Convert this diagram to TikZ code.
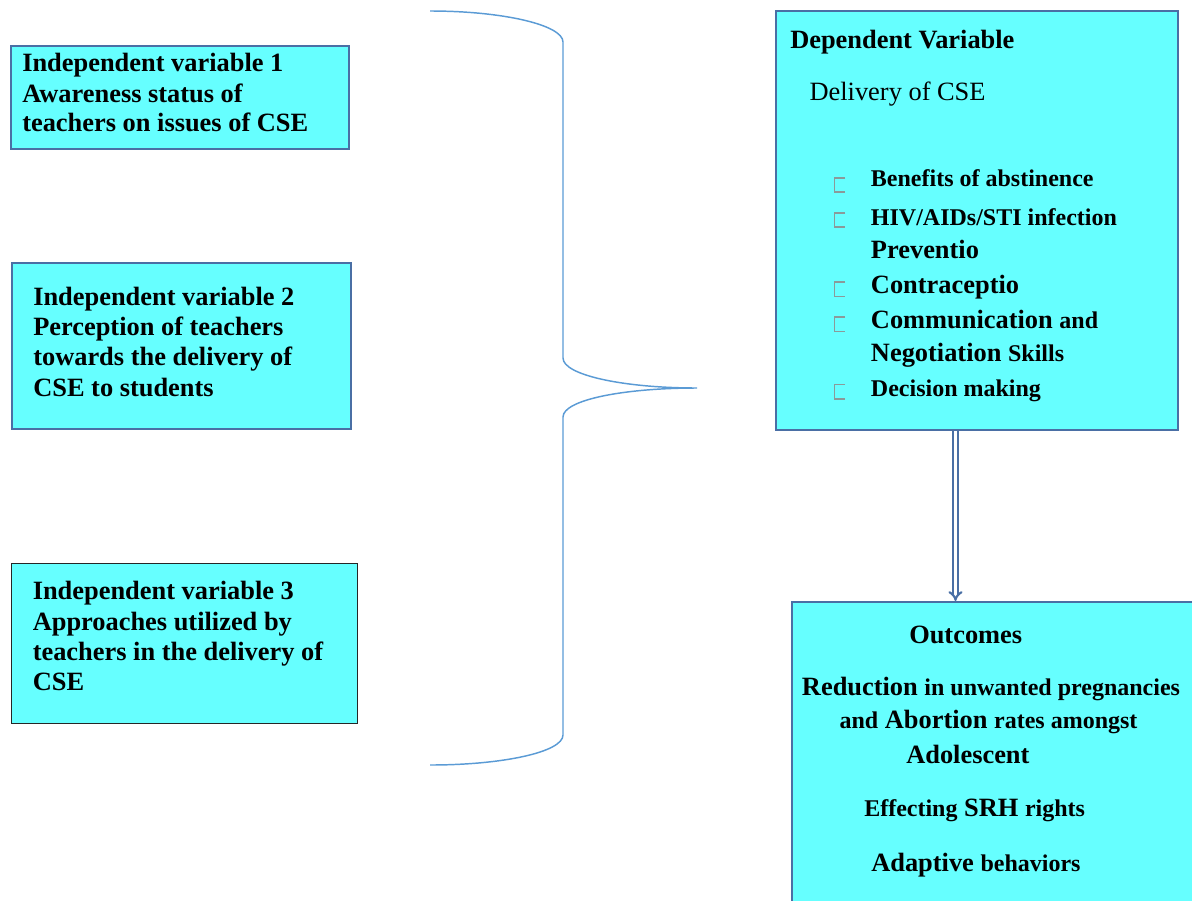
\documentclass[tikz,border=0pt]{standalone}
\usepackage{fontspec}
\setmainfont{Liberation Serif}
\usetikzlibrary{arrows.meta}
\definecolor{boxfill}{HTML}{66FFFF}
\definecolor{boxline}{HTML}{4A6FA5}
\definecolor{bracecol}{HTML}{5B9BD5}
\definecolor{bulletcol}{HTML}{8A9A9A}
\newcommand{\Lg}{\fontsize{19.8}{22}\selectfont\bfseries}
\newcommand{\Sm}{\fontsize{18}{20}\selectfont\bfseries}
\newcommand{\Rg}{\fontsize{19.8}{22}\selectfont}
\begin{document}
\begin{tikzpicture}[x=0.75pt,y=-0.75pt,
  varbox/.style={draw=boxline, line width=1.6pt, fill=boxfill, rectangle, inner sep=0pt, anchor=north west},
  blackbox/.style={varbox, draw=black!85, line width=0.9pt},
  txt/.style={anchor=base west, inner sep=0pt, font=\Lg},
  bullet/.style={draw=bulletcol, line width=0.8pt},
  brace/.style={draw=bracecol, line width=1.1pt},
  dblarrow/.style={draw=boxline, double=white, double distance=1.8pt, line width=1.6pt, -{Implies}}]
\useasboundingbox (0,0) rectangle (1192,900);
\clip (0,0) rectangle (1192,900);

% boxes
\node[varbox, minimum width=253.5pt, minimum height=77.25pt] (iv1) at (10,45) {};
\node[varbox, minimum width=254.25pt, minimum height=124.5pt] (iv2) at (11,262) {};
\node[blackbox, minimum width=259.5pt, minimum height=120pt] (iv3) at (11,563) {};
\node[varbox, minimum width=301.5pt, minimum height=314.25pt] (dep) at (775,10) {};
\node[varbox, minimum width=306.75pt, minimum height=231.75pt] (out) at (791,601) {};

% independent variable 1
\node[txt] (a1) at (22,71.7) {Independent variable 1};
\node[txt] (a2) at (22,102.7) {Awareness status of};
\node[txt] (a3) at (22,131.7) {teachers on issues of CSE};

% independent variable 2
\node[txt] (b1) at (33,305) {Independent variable 2};
\node[txt] (b2) at (33,335) {Perception of teachers};
\node[txt] (b3) at (33,365) {towards the delivery of};
\node[txt] (b4) at (33,396.7) {CSE to students};

% independent variable 3
\node[txt] (c1) at (32.5,599.3) {Independent variable 3};
\node[txt] (c2) at (32.5,630) {Approaches utilized by};
\node[txt] (c3) at (32.5,660) {teachers in the delivery of};
\node[txt] (c4) at (32.5,690) {CSE};

% dependent variable
\node[txt] (d1) at (790,48.3) {Dependent Variable};
\node[txt, font=\Rg] (d2) at (809.3,100) {Delivery of CSE};

% bullet marks
\draw[bullet] (845,178) -- (834.5,178) -- (834.5,192) -- (845,192);
\draw[bullet] (845,213) -- (834.5,213) -- (834.5,227) -- (845,227);
\draw[bullet] (845,282) -- (834.5,282) -- (834.5,296.5) -- (845,296.5);
\draw[bullet] (845,317) -- (834.5,317) -- (834.5,331.5) -- (845,331.5);
\draw[bullet] (845,384.5) -- (834.5,384.5) -- (834.5,399) -- (845,399);

% bullet items
\node[txt, font=\Sm] (e1) at (870.7,186.7) {Benefits of abstinence};
\node[txt, font=\Sm] (e2) at (870.7,225) {HIV/AIDs/STI infection};
\node[txt] (e3) at (870.7,258.3) {Preventio};
\node[txt] (e4) at (870.7,293.3) {Contraceptio};
\node[txt] (e5) at (870.7,328.3) {Communication {\Sm and}};
\node[txt] (e6) at (870.7,361.7) {Negotiation {\Sm Skills}};
\node[txt, font=\Sm] (e7) at (870.7,396) {Decision making};

% outcomes
\node[txt] (f1) at (909,643.3) {Outcomes};
\node[txt] (f2) at (801.7,695) {Reduction {\Sm in unwanted pregnancies}};
\node[txt] (f3) at (839.3,728.3) {{\Sm and} Abortion {\Sm rates amongst}};
\node[txt] (f4) at (906,763.3) {Adolescent};
\node[txt] (f5) at (864,816.7) {{\Sm Effecting} SRH {\Sm rights}};
\node[txt] (f6) at (871,871.7) {Adaptive {\Sm behaviors}};

% brace
\coordinate (tip) at (697,388);
\draw[brace] (430,11) .. controls (503,11) and (563,25) .. (563,42) -- (563,358)
  .. controls (563,375) and (623,388) .. (tip)
  .. controls (623,388) and (563,400) .. (563,417) -- (563,735)
  .. controls (563,752) and (503,765) .. (430,765);

% arrow
\coordinate (ax) at (955.5,0);
\draw[dblarrow] (dep.south -| ax) -- (out.north -| ax);
\end{tikzpicture}
\end{document}
